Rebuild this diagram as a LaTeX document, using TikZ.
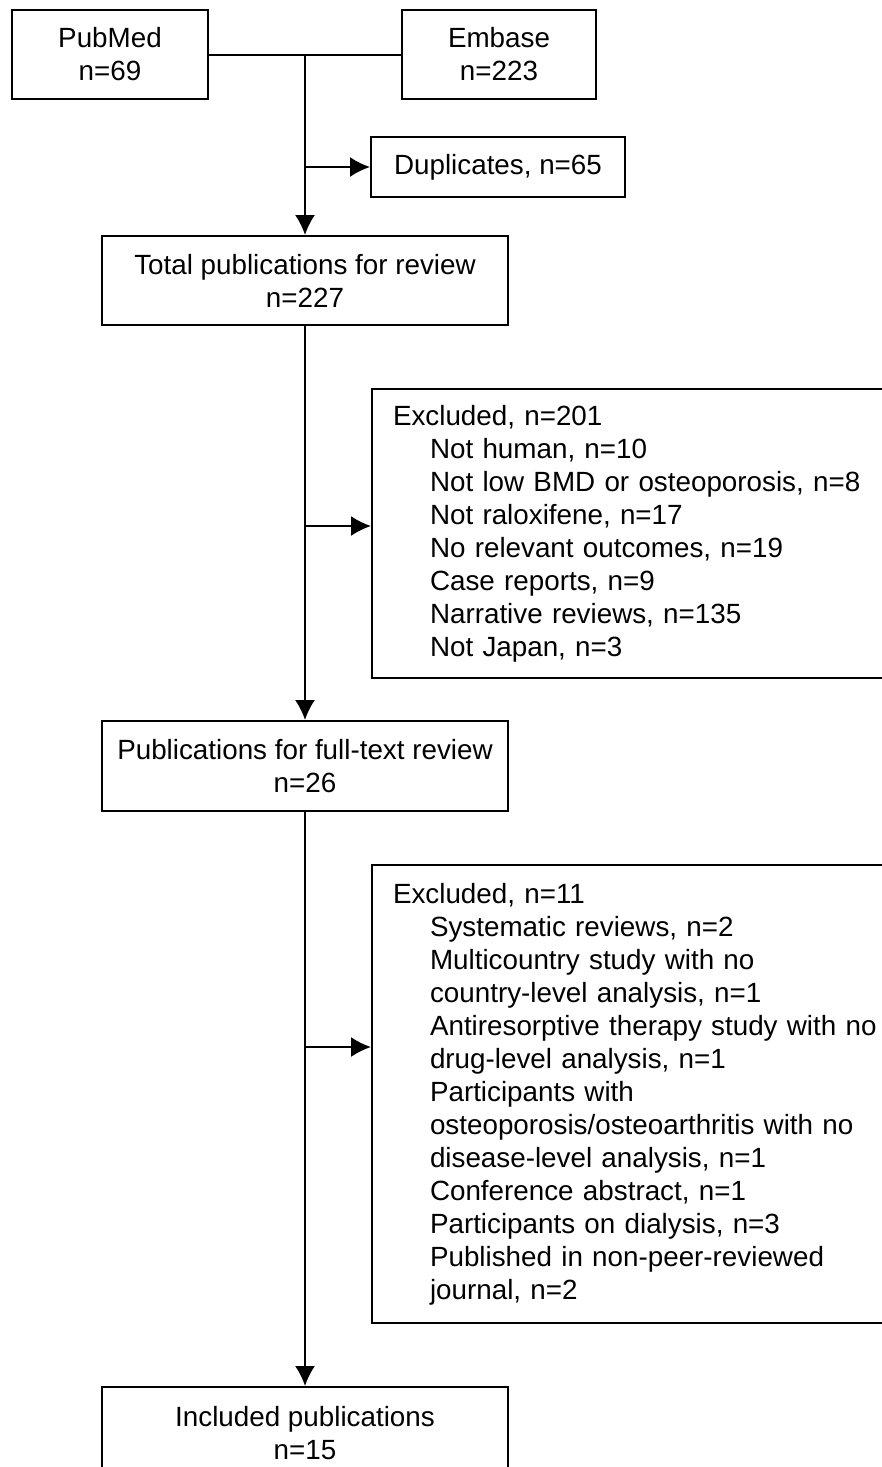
\documentclass[tikz,border=0pt]{standalone}
\usepackage{fontspec}
\setmainfont{Liberation Sans}
\usetikzlibrary{arrows.meta,positioning}
\newcommand{\exind}{\hspace*{18.5pt}}

\begin{document}
\begin{tikzpicture}[x=0.5pt,y=-0.5pt,
flowbox/.style={draw,line width=1pt,align=center,minimum width=203pt,minimum height=44.5pt,inner sep=2pt,font=\fontsize{13.9}{16.5}\selectfont},
exclbox/.style={draw,line width=1pt,align=left,anchor=north west,text width=243.5pt,inner xsep=10.5pt,inner ysep=2pt,font=\fontsize{13.9}{16.5}\selectfont},
arr/.style={-{Latex[length=10pt,width=10pt]},line width=1pt}]
\useasboundingbox (0,0) rectangle (882,1467);
\node[flowbox,minimum width=98pt](pubmed) at (110,54.5){PubMed\\n=69};
\node[flowbox,minimum width=97pt](embase) at (499,54.5){Embase\\n=223};
\node[flowbox,minimum width=127pt,minimum height=30pt](dup) at (498,167){Duplicates, n=65};
\node[flowbox](total) at (305,280.5){Total publications for review\\n=227};
\node[flowbox,minimum height=45pt,below=197pt of total](full){Publications for full-text review\\n=26};
\node[flowbox,minimum height=46pt,below=287pt of full](incl){Included publications\\n=15};
\node[exclbox,minimum height=144.5pt](excl1) at (371,388){Excluded, n=201\\
\exind Not human, n=10\\
\exind Not low BMD or osteoporosis, n=8\\
\exind Not raloxifene, n=17\\
\exind No relevant outcomes, n=19\\
\exind Case reports, n=9\\
\exind Narrative reviews, n=135\\
\exind Not Japan, n=3};
\node[exclbox,minimum height=229pt](excl2) at (371,864){Excluded, n=11\\
\exind Systematic reviews, n=2\\
\exind Multicountry study with no\\
\exind country-level analysis, n=1\\
\exind Antiresorptive therapy study with no\\
\exind drug-level analysis, n=1\\
\exind Participants with\\
\exind osteoporosis/osteoarthritis with no\\
\exind disease-level analysis, n=1\\
\exind Conference abstract, n=1\\
\exind Participants on dialysis, n=3\\
\exind Published in non-peer-reviewed\\
\exind journal, n=2};
\coordinate (split1) at (305,526);
\coordinate (split2) at (305,1047);
\draw[line width=1pt](pubmed.east)--(embase.west);
\draw[arr](pubmed.east -| total.north)--(total.north);
\draw[arr](total.north |- dup.west)--(dup.west);
\draw[arr](total)--(full);\draw[arr](full)--(incl);
\draw[arr](split1)--(split1 -| excl1.west);
\draw[arr](split2)--(split2 -| excl2.west);
\end{tikzpicture}
\end{document}
